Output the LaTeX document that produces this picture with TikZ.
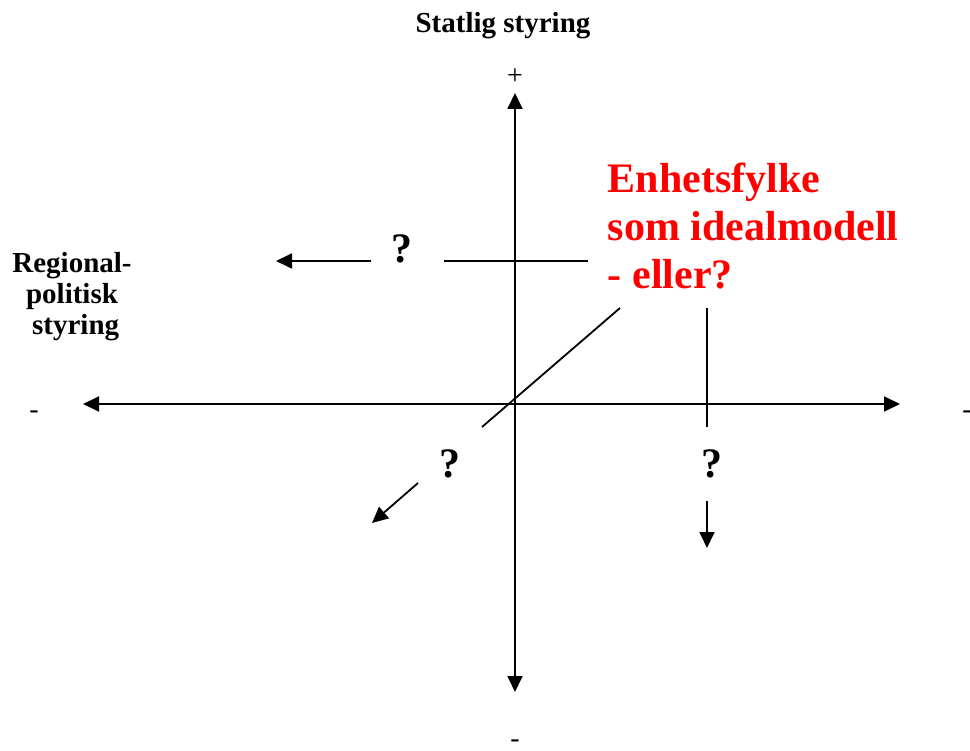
\documentclass[tikz,border=0pt]{standalone}
\usepackage{fontspec}
\setmainfont{Liberation Serif}
\usetikzlibrary{arrows.meta}
\begin{document}
\begin{tikzpicture}[x=1pt,y=-1pt,line width=1.8pt,
  tipend/.style={-{Triangle[length=16pt,width=15pt]}},
  bothends/.style={{Triangle[length=16pt,width=15pt]}-{Triangle[length=16pt,width=15pt]}},
  lbl/.style={font=\fontsize{29}{31}\selectfont\bfseries,inner sep=0pt},
  qm/.style={font=\fontsize{42}{48}\selectfont\bfseries,inner sep=0pt,anchor=base},
  sign/.style={font=\fontsize{28}{30}\selectfont,inner sep=0pt,anchor=base},
  redtxt/.style={font=\fontsize{42}{48}\selectfont\bfseries,text=red,inner sep=0pt,align=left}]
\useasboundingbox (0,0) rectangle (970,751);
% axes
\coordinate (top) at (515,93);
\coordinate (bot) at (515,692);
\coordinate (lft) at (83,404);
\coordinate (rgt) at (900,404);
\draw[bothends] (bot) -- (top);
\draw[bothends] (lft) -- (rgt);
% titles
\node[lbl,anchor=base] (statlig) at (503,33) {Statlig styring};
\node[lbl,anchor=base,align=center] (regional) at (72,335) {Regional-\\politisk\\ \ styring};
\node[redtxt,anchor=base west] (enhet) at (607,289) {Enhetsfylke\\som idealmodell\\- eller?};
% signs
\node[sign] (plus) at (515,85) {+};
\node[sign] (mbot) at (515,747) {-};
\node[sign] (mlft) at (34,419) {-};
\node[sign] (mrgt) at (967,419) {-};
% horizontal branch
\coordinate (h1) at (588,261);
\coordinate (h2) at (444,261);
\coordinate (h3) at (371,261);
\coordinate (h4) at (276,261);
\draw (h1) -- (h2);
\node[qm] (q1) at (401.5,263) {?};
\draw[tipend] (h3) -- (h4);
% diagonal branch
\coordinate (d1) at (620,308);
\coordinate (d2) at (482,427);
\coordinate (d3) at (418,483);
\coordinate (d4) at (372,523);
\draw (d1) -- (d2);
\node[qm] (q2) at (449.5,478) {?};
\draw[tipend] (d3) -- (d4);
% vertical branch
\coordinate (v1) at (707,308);
\coordinate (v2) at (707,427);
\coordinate (v3) at (707,501);
\coordinate (v4) at (707,548);
\draw (v1) -- (v2);
\node[qm] (q3) at (712,478) {?};
\draw[tipend] (v3) -- (v4);
\end{tikzpicture}
\end{document}
